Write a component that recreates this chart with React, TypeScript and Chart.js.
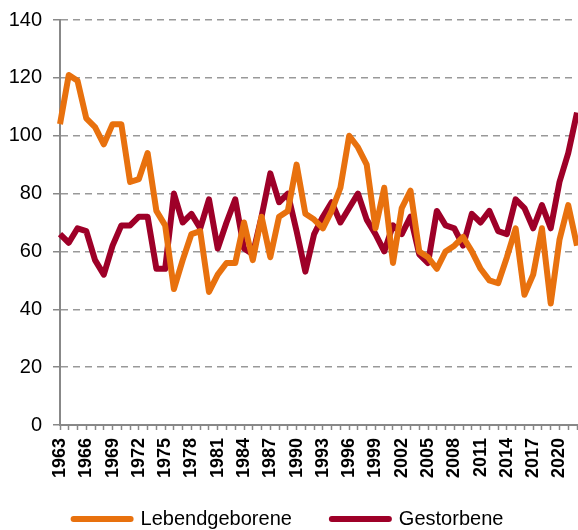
import { useEffect, useRef } from 'react';
import { Chart, registerables } from 'chart.js';

Chart.register(...registerables);

const years: number[] = [
  1963, 1964, 1965, 1966, 1967, 1968, 1969, 1970, 1971, 1972,
  1973, 1974, 1975, 1976, 1977, 1978, 1979, 1980, 1981, 1982,
  1983, 1984, 1985, 1986, 1987, 1988, 1989, 1990, 1991, 1992,
  1993, 1994, 1995, 1996, 1997, 1998, 1999, 2000, 2001, 2002,
  2003, 2004, 2005, 2006, 2007, 2008, 2009, 2010, 2011, 2012,
  2013, 2014, 2015, 2016, 2017, 2018, 2019, 2020, 2021, 2022,
];

const lebendgeborene: number[] = [
  104, 121, 119, 106, 103, 97, 104, 104, 84, 85,
  94, 74, 69, 47, 57, 66, 67, 46, 52, 56,
  56, 70, 57, 72, 58, 72, 74, 90, 73, 71,
  68, 74, 82, 100, 96, 90, 68, 82, 56, 75,
  81, 60, 58, 54, 60, 62, 65, 60, 54, 50,
  49, 58, 68, 45, 52, 68, 42, 64, 76, 62,
];

const gestorbene: number[] = [
  66, 63, 68, 67, 57, 52, 62, 69, 69, 72,
  72, 54, 54, 80, 70, 73, 68, 78, 61, 70,
  78, 61, 59, 72, 87, 77, 80, 67, 53, 66,
  72, 77, 70, 75, 80, 71, 66, 60, 69, 66,
  72, 59, 56, 74, 69, 68, 62, 73, 70, 74,
  67, 66, 78, 75, 68, 76, 68, 84, 94, 108,
];

const seriesNames = ['Lebendgeborene', 'Gestorbene'];
const FONT = "'Liberation Sans', Arial, sans-serif";
const ORANGE = '#E8710E';
const RED = '#9E0028';

export default function App() {
  const ref = useRef<HTMLCanvasElement>(null);
  useEffect(() => {
    const chart = new Chart(ref.current!, {
      type: 'line',
      data: {
        labels: years.map(String),
        datasets: [
          {
            label: seriesNames[0],
            data: lebendgeborene,
            borderColor: ORANGE,
            backgroundColor: ORANGE,
          },
          {
            label: seriesNames[1],
            data: gestorbene,
            borderColor: RED,
            backgroundColor: RED,
          },
        ],
      },
      options: {
        responsive: false,
        animation: false,
        layout: { padding: { top: 20, right: 1, left: 0, bottom: -9 } },
        elements: {
          point: { radius: 0 },
          line: { tension: 0, borderWidth: 6, borderJoinStyle: 'round' },
        },
        plugins: {
          tooltip: { enabled: false },
          legend: {
            position: 'bottom',
            labels: {
              usePointStyle: true,
              pointStyle: 'line',
              pointStyleWidth: 57,
              padding: 40,
              color: '#000',
              font: { family: FONT, size: 20 },
              generateLabels: (c: any) =>
                Chart.defaults.plugins.legend.labels
                  .generateLabels(c)
                  .map((it: any) => ({ ...it, lineCap: 'round', lineWidth: 6 })),
            },
          },
        },
        scales: {
          x: {
            type: 'category',
            offset: false,
            grid: {
              drawOnChartArea: false,
              drawTicks: true,
              tickLength: 5,
              tickColor: '#888',
              tickWidth: 1.5,
            },
            border: { color: '#888', width: 2 },
            ticks: {
              autoSkip: false,
              maxRotation: 90,
              minRotation: 90,
              padding: 8,
              color: '#000',
              font: { family: FONT, size: 18, weight: 'bold' },
              callback: (_v: any, i: number) => (i % 3 === 0 ? String(years[i]) : ''),
            },
            afterFit: (s: any) => {
              s.height = 44;
              s.paddingRight = 0;
              s.paddingLeft = 0;
              s._computeLabelArea = () => undefined;
            },
          },
          y: {
            min: 0,
            max: 140,
            ticks: {
              stepSize: 20,
              padding: 11,
              color: '#000',
              font: { family: FONT, size: 20 },
            },
            grid: {
              color: '#999',
              lineWidth: 1.5,
              tickLength: 7,
              tickColor: '#888',
              tickWidth: 1.5,
              tickBorderDash: [],
            },
            border: { color: '#888', width: 2, dash: [7, 5] },
            afterFit: (s: any) => {
              s.width = 60;
              s.paddingTop = 0;
              s.paddingBottom = 0;
            },
          },
        },
      } as any,
    });
    return () => chart.destroy();
  }, []);
  return (
    <div style={{ position: 'absolute', left: 0, top: 0, width: 578, height: 530 }}>
      <canvas ref={ref} width={578} height={530} />
    </div>
  );
}
